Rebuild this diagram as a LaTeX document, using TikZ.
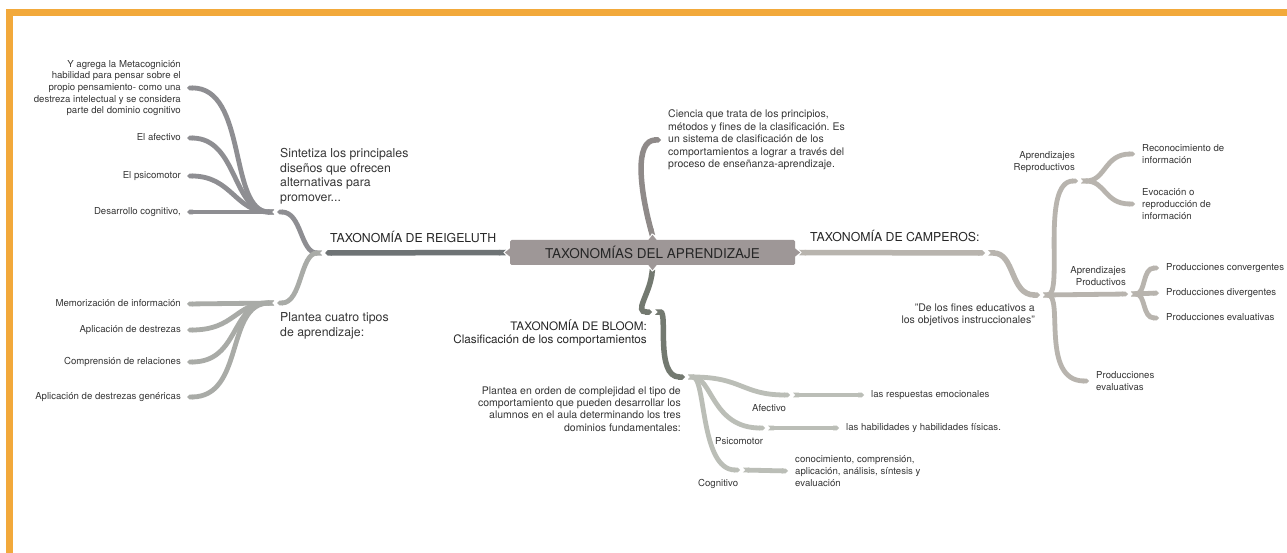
\documentclass[tikz,border=0pt]{standalone}
\usepackage{fontspec}
\setmainfont{TeX Gyre Heros}
\usetikzlibrary{arrows.meta}
\frenchspacing

\definecolor{frame}{HTML}{F2A93B}
\definecolor{rootgray}{HTML}{9E9797}
\definecolor{txt}{HTML}{363636}
\definecolor{headtxt}{HTML}{262626}
\definecolor{creig}{HTML}{6E7375}
\definecolor{cup}{HTML}{8E8E92}
\definecolor{clow}{HTML}{A9ABA7}
\definecolor{cdef}{HTML}{8F8A89}
\definecolor{ccamp}{HTML}{B8B4AE}
\definecolor{cbloom}{HTML}{737970}
\definecolor{cbleaf}{HTML}{BBBEB7}

\begin{document}
\begin{tikzpicture}[x=1pt,y=-1pt,
  every node/.style={inner sep=0pt},
  % connectors: notched start, pointed end
  bar/.style={line width=5.5pt,{Triangle Cap[reversed]}-{Triangle Cap}},
  leaf/.style={line width=4.8pt,{Triangle Cap[reversed]}-{Triangle Cap}},
  % text styles
  lbl/.style={font=\fontsize{9.6}{11.6}\selectfont, text=txt},
  lblone/.style={lbl, text height=6.9pt, text depth=2pt},
  lblR/.style={lbl, anchor=east, align=right},
  lblL/.style={lbl, anchor=west, align=left},
  lblRone/.style={lblone, anchor=east},
  lblLone/.style={lblone, anchor=west},
  para/.style={font=\fontsize{10.5}{12.4}\selectfont, text=txt},
  mid/.style={font=\fontsize{12.3}{14.5}\selectfont, text=txt},
  head/.style={font=\fontsize{12.3}{14.5}\selectfont, text=headtxt, text height=8.8pt, text depth=0pt},
  rootbox/.style={fill=rootgray, minimum width=285pt, minimum height=25pt,
    rounded corners=1.5pt, font=\fontsize{13.5}{16}\selectfont, text=headtxt}
]
\useasboundingbox (0,0) rectangle (1287,553);
\fill[white] (0,0) rectangle (1287,553);
% orange frame
\fill[frame] (6,9) rectangle (1287,16);
\fill[frame] (6,9) rectangle (13,553);

% ---------- central topic ----------
\node[rootbox] (root) at (652.5,252.5) {TAXONOMÍAS DEL APRENDIZAJE};
\fill[rootgray] ([yshift=4pt]root.west) -- ([xshift=-5pt]root.west) -- ([yshift=-4pt]root.west) -- cycle;
\fill[rootgray] ([yshift=4pt]root.east) -- ([xshift=5pt]root.east) -- ([yshift=-4pt]root.east) -- cycle;
\fill[rootgray] ([xshift=-4pt]root.north) -- ([yshift=5pt]root.north) -- ([xshift=4pt]root.north) -- cycle;
\fill[rootgray] ([xshift=-4pt]root.south) -- ([yshift=-5pt]root.south) -- ([xshift=4pt]root.south) -- cycle;

% ---------- Reigeluth ----------
\node[head, anchor=west] (tReig) at (330,238) {TAXONOMÍA DE REIGELUTH};
\coordinate (rJ) at (325,253);
\coordinate (sJ) at (277,212);
\coordinate (pJ) at (277,303);
\draw[bar, creig] ([xshift=-4pt]root.west) -- (rJ);
\draw[leaf, cup] ([xshift=-3pt]rJ) .. controls (300,253) and (302,212) .. (sJ);
\draw[leaf, clow] ([xshift=-3pt]rJ) .. controls (300,253) and (302,303) .. (pJ);

\node[mid, anchor=west, align=left] (tSint) at (280,176) {Sintetiza los principales\\diseños que ofrecen\\alternativas para\\promover...};
\node[mid, anchor=west, align=left] (tPlan) at (280,326) {Plantea cuatro tipos\\de aprendizaje:};

\node[lblR] (lMeta) at (181,88) {Y agrega la Metacognición\\habilidad para pensar sobre el\\propio pensamiento- como una\\destreza intelectual y se considera\\parte del dominio cognitivo};
\node[lblRone] (lAfe) at (181,138) {El afectivo};
\node[lblRone] (lPsi) at (181,176) {El psicomotor};
\node[lblRone] (lDes) at (181,212) {Desarrollo cognitivo,};

\draw[leaf, cup] ([xshift=-3pt]sJ) .. controls (228,212) and (248,87) .. ([xshift=6pt]lMeta.east);
\draw[leaf, cup] ([xshift=-3pt]sJ) .. controls (232,212) and (238,138) .. ([xshift=6pt]lAfe.east);
\draw[leaf, cup] ([xshift=-3pt]sJ) .. controls (235,212) and (232,176) .. ([xshift=6pt]lPsi.east);
\draw[leaf, cup] ([xshift=-3pt]sJ) -- ([xshift=6pt]lDes.east);

\node[lblRone] (lMem) at (181,304) {Memorización de información};
\node[lblRone] (lApl) at (181,330) {Aplicación de destrezas};
\node[lblRone] (lCom) at (181,362) {Comprensión de relaciones};
\node[lblRone] (lGen) at (181,397) {Aplicación de destrezas genéricas};

\draw[leaf, clow] ([xshift=-3pt]pJ) -- ([xshift=6pt]lMem.east);
\draw[leaf, clow] ([xshift=-3pt]pJ) .. controls (235,303) and (235,330) .. ([xshift=6pt]lApl.east);
\draw[leaf, clow] ([xshift=-3pt]pJ) .. controls (230,303) and (240,362) .. ([xshift=6pt]lCom.east);
\draw[leaf, clow] ([xshift=-3pt]pJ) .. controls (225,303) and (245,397) .. ([xshift=6pt]lGen.east);

% ---------- definition ----------
\node[para, anchor=west, align=left] (tDef) at (668,140) {Ciencia que trata de los principios,\\métodos y fines de la clasificación. Es\\un sistema de clasificación de los\\comportamientos a lograr a través del\\proceso de enseñanza-aprendizaje.};
\draw[bar, cdef] ([yshift=4pt]root.north) .. controls (640,190) and (634,140) .. ([xshift=-7pt]tDef.west);

% ---------- Bloom ----------
\node[font=\fontsize{11.7}{12.6}\selectfont, text=headtxt, anchor=east, align=right] (tBloom) at (647,333) {TAXONOMÍA DE BLOOM:\\Clasificación de los comportamientos};
\node[para, anchor=east, align=right] (tBPl) at (681,409) {Plantea en orden de complejidad el tipo de\\comportamiento que pueden desarrollar los\\alumnos en el aula determinando los tres\\dominios fundamentales:};
\coordinate (bA) at (652,312);
\coordinate (bJ) at (685,377);
\draw[bar, cbloom] ([yshift=-4pt]root.south) .. controls (649,295) and (634,312) .. (bA);
\draw[bar, cbloom] ([xshift=3pt]bA) .. controls (668,312) and (655,377) .. (bJ);

\node[lblLone] (tResp) at (871,395) {las respuestas emocionales};
\node[lblLone] (tHab) at (846,428) {las habilidades y habilidades físicas.};
\node[lblL] (tCon) at (795,471) {conocimiento, comprensión,\\aplicación, análisis, síntesis y\\evaluación};
\node[lblLone] (lAf) at (752,409) {Afectivo};
\node[lblLone] (lPs) at (715,442) {Psicomotor};
\node[lblLone] (lCo) at (698,484) {Cognitivo};

\coordinate (aA) at (790,395);
\coordinate (psA) at (765,428);
\coordinate (cA) at (740,470);
\draw[leaf, cbleaf] ([xshift=3pt]bJ) .. controls (742,377) and (742,395) .. (aA);
\draw[leaf, cbleaf] ([xshift=3pt]bJ) .. controls (712,377) and (712,428) .. (psA);
\draw[leaf, cbleaf] ([xshift=3pt]bJ) .. controls (706,377) and (700,470) .. (cA);
\draw[leaf, cbleaf] ([xshift=3pt]aA) -- ([xshift=-7pt]tResp.west);
\draw[leaf, cbleaf] ([xshift=3pt]psA) -- ([xshift=-7pt]tHab.west);
\draw[leaf, cbleaf] ([xshift=3pt]cA) -- ([xshift=-7pt]tCon.west);

% ---------- Camperos ----------
\node[head, anchor=west] (tCamp) at (810,237) {TAXONOMÍA DE CAMPEROS:};
\node[para, anchor=east, align=right] (tQuote) at (1035,315) {"De los fines educativos a\\los objetivos instruccionales"};
\coordinate (cpA) at (985,253);
\coordinate (cpJ) at (1040,295);
\coordinate (rpJ) at (1078,181);
\coordinate (pdJ) at (1128,294);
\draw[bar, ccamp] ([xshift=4pt]root.east) -- (cpA);
\draw[bar, ccamp] ([xshift=3pt]cpA) .. controls (1015,253) and (1010,295) .. (cpJ);

\node[lblR] (lRep) at (1075,162) {Aprendizajes\\Reproductivos};
\node[lblR] (lProd) at (1126,276) {Aprendizajes\\Productivos};
\node[lblL] (lPEv) at (1096,381) {Producciones\\evaluativas};
\node[lblL] (lRec) at (1142,154) {Reconocimiento de\\información};
\node[lblL] (lEvo) at (1142,204) {Evocación o\\reproducción de\\información};
\node[lblLone] (lConv) at (1166,268) {Producciones convergentes};
\node[lblLone] (lDiv) at (1166,293) {Producciones divergentes};
\node[lblLone] (lEvp) at (1166,318) {Producciones evaluativas};

\draw[leaf, ccamp] ([xshift=3pt]cpJ) .. controls (1064,295) and (1040,181) .. (rpJ);
\draw[leaf, ccamp] ([xshift=3pt]cpJ) -- (pdJ);
\draw[leaf, ccamp] ([xshift=3pt]cpJ) .. controls (1064,295) and (1040,381) .. ([xshift=-7pt]lPEv.west);

\draw[leaf, ccamp] ([xshift=3pt]rpJ) .. controls (1106,181) and (1104,154) .. ([xshift=-7pt]lRec.west);
\draw[leaf, ccamp] ([xshift=3pt]rpJ) .. controls (1106,181) and (1104,204) .. ([xshift=-7pt]lEvo.west);

\draw[leaf, ccamp] ([xshift=3pt]pdJ) .. controls (1146,294) and (1142,268) .. ([xshift=-7pt]lConv.west);
\draw[leaf, ccamp] ([xshift=3pt]pdJ) -- ([xshift=-7pt]lDiv.west);
\draw[leaf, ccamp] ([xshift=3pt]pdJ) .. controls (1146,294) and (1142,318) .. ([xshift=-7pt]lEvp.west);
\end{tikzpicture}
\end{document}
